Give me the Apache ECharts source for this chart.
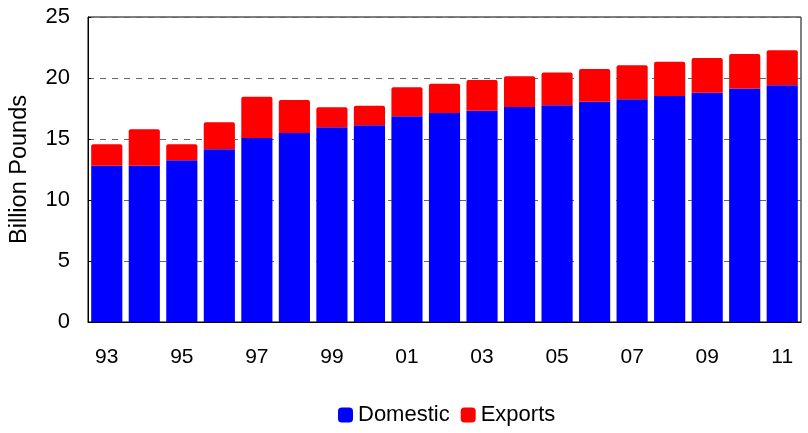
<!DOCTYPE html>
<html><head><meta charset="utf-8">
<script src="https://cdn.jsdelivr.net/npm/echarts@6/dist/echarts.min.js"></script>
<style>html,body{margin:0;padding:0;background:#fff}#c{width:808px;height:433px}</style>
</head><body><div id="c"></div>
<script>
const categories = ['93','94','95','96','97','98','99','00','01','02','03','04','05','06','07','08','09','10','11'];
const domestic = [12.8,12.8,13.25,14.15,15.08,15.5,15.96,16.12,16.86,17.13,17.32,17.62,17.76,18.06,18.25,18.52,18.8,19.13,19.4];
const exportsV = [1.76,3.0,1.31,2.22,3.39,2.7,1.64,1.61,2.38,2.4,2.52,2.52,2.7,2.68,2.79,2.82,2.84,2.84,2.87];
const yTicks = [0,5,10,15,20,25];

const chart = echarts.init(document.getElementById('c'));
const font = 'Liberation Sans, Arial, sans-serif';
chart.setOption({
  animation: false,
  textStyle: {fontFamily: font},
  grid: {left: 88, right: 7, top: 17, bottom: 111, show: true, borderColor: '#000', borderWidth: 1, containLabel: false},
  legend: {
    bottom: 2, left: 333, itemWidth: 15, itemHeight: 15, itemGap: 11,
    icon: 'roundRect',
    textStyle: {fontSize: 22, color: '#000', fontFamily: font},
    data: ['Domestic','Exports']
  },
  xAxis: {
    type: 'category', data: categories,
    axisLine: {lineStyle: {color: '#000', width: 1}},
    axisTick: {show: false},
    axisLabel: {interval: 1, fontSize: 21, color: '#000', margin: 25, fontFamily: font}
  },
  yAxis: {
    type: 'value', min: yTicks[0], max: yTicks[yTicks.length-1], interval: 5,
    name: 'Billion Pounds', nameLocation: 'middle', nameGap: 56,
    nameTextStyle: {fontSize: 23.5, color: '#000', fontFamily: font},
    axisLine: {show: true, lineStyle: {color: '#000', width: 1}},
    axisTick: {show: true, inside: true, length: 3, lineStyle: {color: '#000'}},
    axisLabel: {fontSize: 22, color: '#000', margin: 18, fontFamily: font},
    splitLine: {show: true, lineStyle: {color: '#666', type: [6,6], width: 1}}
  },
  series: [
    {name: 'Domestic', type: 'bar', stack: 'a', data: domestic, barCategoryGap: '17%', itemStyle: {color: '#0000FF'}},
    {name: 'Exports', type: 'bar', stack: 'a', data: exportsV, barCategoryGap: '17%', itemStyle: {color: '#FF0000', borderRadius: [2,2,0,0]}}
  ]
});
</script></body></html>
